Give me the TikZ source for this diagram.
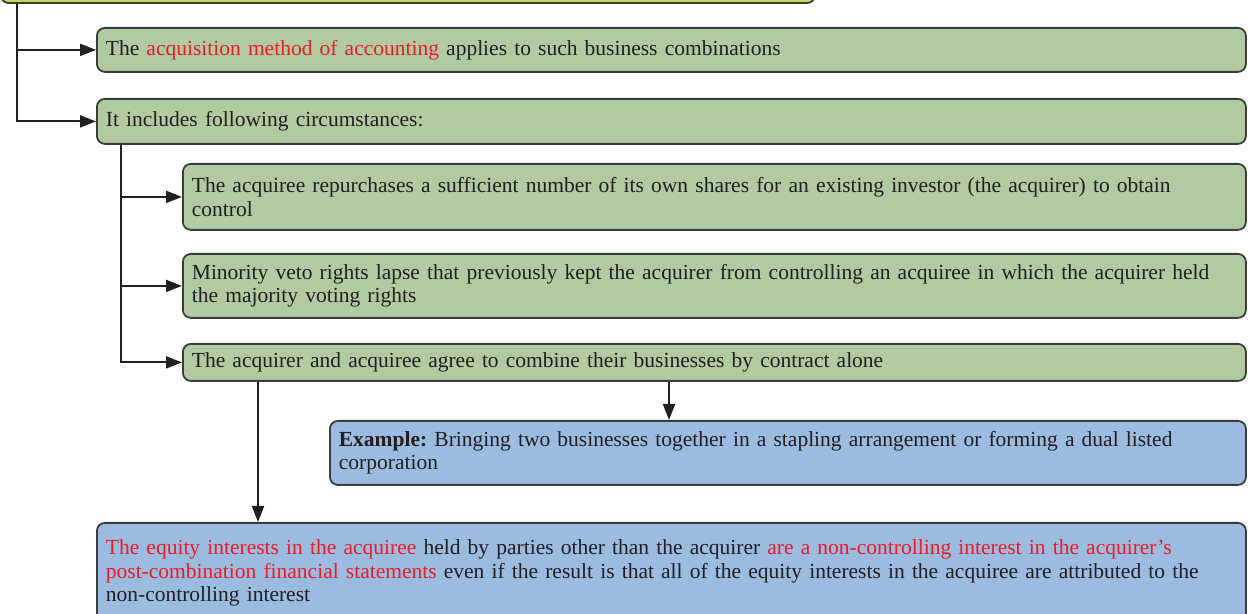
\documentclass[tikz,border=0pt]{standalone}
\usepackage{fontspec}
\setmainfont{Liberation Serif}
\usetikzlibrary{arrows.meta,positioning}
\definecolor{greenfill}{HTML}{B0CBA1}
\definecolor{bluefill}{HTML}{9BBBE1}
\definecolor{topfill}{HTML}{C6D95A}
\definecolor{hilite}{HTML}{ED1C24}
\definecolor{edge}{HTML}{3C3C3C}
\definecolor{ink}{HTML}{231F20}
\newcommand{\redtxt}[1]{\textcolor{hilite}{#1}}

\begin{document}
\begin{tikzpicture}[
    x=1pt, y=-1pt,
    box/.style={draw=edge,line width=0.9pt,rounded corners=4pt,anchor=north west,
        align=left,inner xsep=4.5pt,inner ysep=0pt,text=ink,
        font=\fontsize{10.75pt}{11.8pt}\selectfont\frenchspacing},
    fact/.style={box,fill=greenfill},
    note/.style={box,fill=bluefill},
    arrow/.style={-{Triangle[length=8pt,width=6pt]},line width=1pt,draw=ink}
]
\useasboundingbox (0,0) rectangle (624,307);

% header box, cut off by the top edge
\node[box,fill=topfill,anchor=south west,minimum width=407pt,minimum height=30pt] (top) at (0,2) {};

\node[fact,text width=565.5pt,minimum height=22pt] (acq) at (48,13.5)
    {The \redtxt{acquisition method of accounting} applies to such business combinations};
\node[fact,text width=565.5pt,minimum height=22.5pt] (incl) at (48,49)
    {It includes following circumstances:};

% the three circumstances
\node[fact,text width=522.5pt,minimum height=33pt] (repur) at (91,81.5)
    {The acquiree repurchases a sufficient number of its own shares for an existing investor (the acquirer) to obtain\\control};
\node[fact,text width=522.5pt,minimum height=32pt] (veto) at (91,126.5)
    {Minority veto rights lapse that previously kept the acquirer from controlling an acquiree in which the acquirer held\\the majority voting rights};
\node[fact,text width=522.5pt,minimum height=18.5pt] (contract) at (91,171.5)
    {The acquirer and acquiree agree to combine their businesses by contract alone};

\node[note,text width=449pt,minimum height=32pt] (example) at (164.5,210)
    {\textbf{Example:} Bringing two businesses together in a stapling arrangement or forming a dual listed\\corporation};
\node[note,text width=565.5pt,minimum height=50pt] (equity) at (48,261)
    {\redtxt{The equity interests in the acquiree} held by parties other than the acquirer \redtxt{are a non-controlling interest in the acquirer’s}\\
     \redtxt{post-combination financial statements} even if the result is that all of the equity interests in the acquiree are attributed to the\\
     non-controlling interest};

\draw[arrow] ([xshift=8.5pt]top.south west) |- (acq.west);
\draw[arrow] ([xshift=8.5pt]top.south west) |- (incl.west);
\foreach \n in {repur,veto,contract}
    \draw[arrow] ([xshift=12.5pt]incl.south west) |- (\n.west);

\coordinate (drop1) at ([xshift=38pt]contract.south west);
\coordinate (drop2) at ([xshift=243.5pt]contract.south west);
\draw[arrow] (drop1) -- (drop1 |- equity.north);
\draw[arrow] (drop2) -- (drop2 |- example.north);
\end{tikzpicture}
\end{document}
